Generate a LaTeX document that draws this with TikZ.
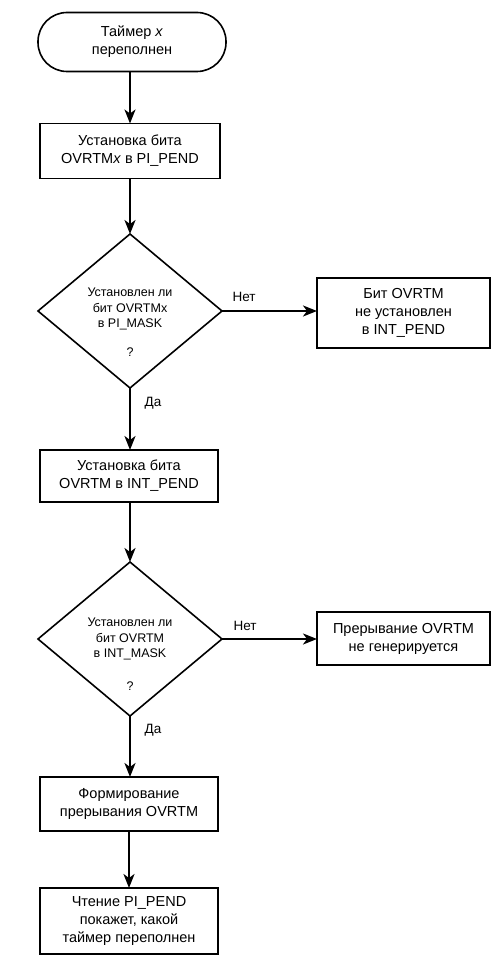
\documentclass[tikz,border=0pt]{standalone}
\usepackage{fontspec}
\setmainfont{Liberation Sans}
\usetikzlibrary{shapes.geometric,arrows.meta}
\begin{document}
\begin{tikzpicture}[x=1pt,y=-1pt,
  every node/.style={inner sep=0pt, outer sep=0pt},
  boxtext/.style={font=\fontsize{14.5}{18}\selectfont, align=center},
  procbox/.style={draw, line width=1.6pt, boxtext, rectangle},
  dectext/.style={font=\fontsize{12.5}{15.5}\selectfont, align=center},
  decbox/.style={draw, line width=1.6pt, diamond, minimum width=184pt, minimum height=154pt},
  termbox/.style={draw, line width=1.6pt, rectangle, rounded corners=29pt, boxtext},
  lbl/.style={font=\fontsize{13.5}{15}\selectfont},
  flow/.style={line width=1.8pt, -{Stealth[length=14pt,width=11pt,inset=4pt]}}
]
\useasboundingbox (0,0) rectangle (494,955);
\node[termbox, minimum width=188pt, minimum height=59pt] (start) at (132,42) {Таймер \textit{x}\\переполнен};
\node[procbox, minimum width=180pt, minimum height=55pt] (b1) at (130,151) {Установка бита\\OVRTM\textit{x} в PI\_PEND};
\node[decbox] (d1) at (130,311) {};
\node[dectext] (t1) at (130,309) {Установлен ли\\бит OVRTMx\\в PI\_MASK};
\node[dectext] (q1) at (130,352) {?};
\node[procbox, minimum width=173pt, minimum height=70pt] (b2) at (403.5,313) {Бит OVRTM\\не установлен\\в INT\_PEND};
\node[procbox, minimum width=178pt, minimum height=52pt] (b3) at (129,476) {Установка бита\\OVRTM в INT\_PEND};
\node[decbox] (d2) at (130,639) {};
\node[dectext] (t2) at (130,639) {Установлен ли\\бит OVRTM\\в INT\_MASK};
\node[dectext] (q2) at (130,686) {?};
\node[procbox, minimum width=173pt, minimum height=53pt] (b4) at (403.5,638.5) {Прерывание OVRTM\\не генерируется};
\node[procbox, minimum width=178pt, minimum height=54pt] (b5) at (129,804) {Формирование\\прерывания OVRTM};
\node[procbox, minimum width=178pt, minimum height=66pt] (b6) at (129,921) {Чтение PI\_PEND\\покажет, какой\\таймер переполнен};
\node[lbl] (n1) at (244,297) {Нет};
\node[lbl] (y1) at (153,403) {Да};
\node[lbl] (n2) at (245,626) {Нет};
\node[lbl] (y2) at (153,730) {Да};
\draw[flow] (start.south -| b1.north) -- (b1.north);
\draw[flow] (b1.south) -- (d1.north);
\draw[flow] (d1.east) -- (d1.east -| b2.west);
\draw[flow] (d1.south) -- (b3.north -| d1.south);
\draw[flow] (b3.south -| d2.north) -- (d2.north);
\draw[flow] (d2.east) -- (d2.east -| b4.west);
\draw[flow] (d2.south) -- (b5.north -| d2.south);
\draw[flow] (b5.south) -- (b6.north);
\end{tikzpicture}
\end{document}
